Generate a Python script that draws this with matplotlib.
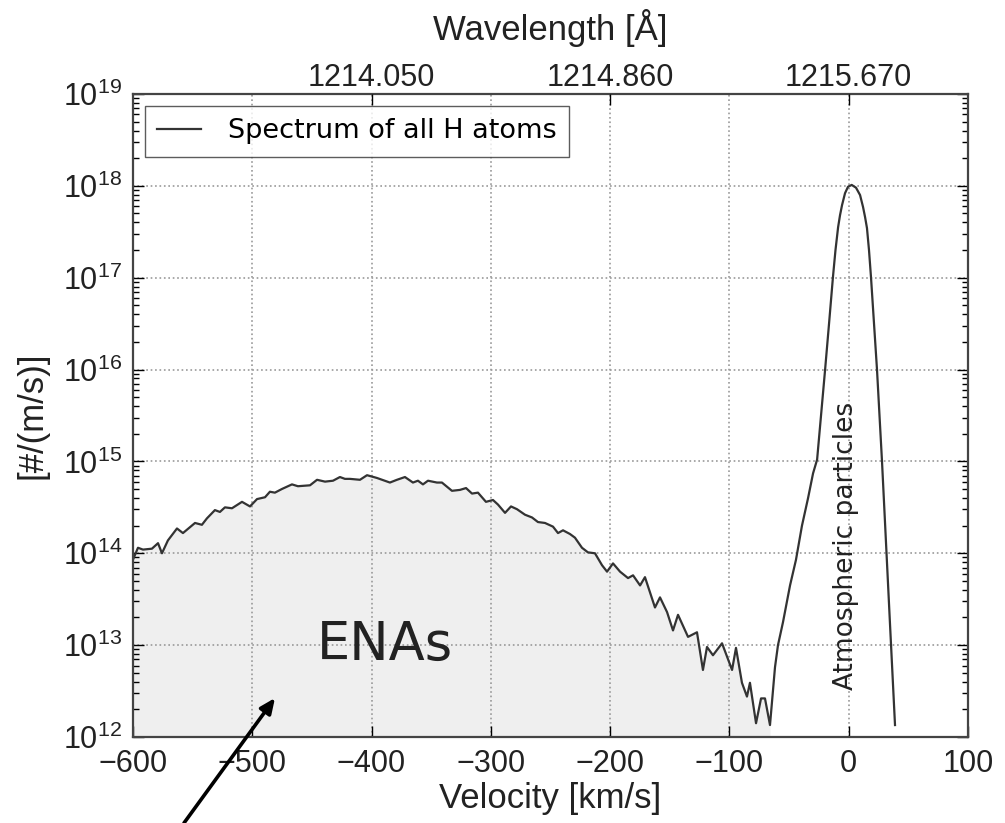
import numpy as np
import matplotlib
matplotlib.use("Agg")
import matplotlib.pyplot as plt

plt.rcParams['mathtext.fontset'] = 'custom'
plt.rcParams['mathtext.rm'] = 'Liberation Sans'
plt.rcParams['mathtext.it'] = 'Liberation Sans'

#%%---------------------------------------- datos leidos de la figura
# velocidad [km/s] y log10 del espectro, parte ENA
v_ena = [-600.0, -595.8, -591.6, -584.1, -579.0, -575.7, -570.7, -563.1, -558.1,
         -548.0, -542.2, -538.0, -531.3, -527.1, -522.9, -517.0, -508.6, -501.9,
         -496.0, -489.3, -485.2, -481.0, -475.1, -466.7, -461.7, -451.6, -445.7,
         -439.0, -432.3, -426.5, -422.3, -418.1, -409.7, -403.8, -395.5, -384.6,
         -378.7, -372.0, -365.3, -361.1, -356.9, -352.7, -345.2, -341.0, -332.6,
         -325.9, -320.8, -315.8, -310.8, -304.1, -298.2, -294.0, -288.1, -283.1,
         -278.1, -271.4, -265.5, -260.5, -254.6, -247.9, -243.7, -239.5, -233.7,
         -229.5, -223.6, -218.6, -212.7, -206.8, -202.6, -197.6, -191.7, -185.0,
         -180.8, -174.9, -170.8, -162.4, -158.2, -152.3, -147.3, -143.1, -134.7,
         -127.2, -122.2, -118.8, -113.8, -106.2, -97.8, -94.5, -89.5, -85.3,
         -82.8, -77.7, -73.5, -70.2, -66.0]
log_ena = [13.93, 14.06, 14.04, 14.05, 14.11, 14.00, 14.14, 14.27, 14.22,
           14.33, 14.31, 14.38, 14.47, 14.45, 14.50, 14.49, 14.56, 14.51,
           14.59, 14.61, 14.67, 14.66, 14.70, 14.75, 14.73, 14.74, 14.80,
           14.78, 14.79, 14.83, 14.81, 14.81, 14.80, 14.85, 14.82, 14.77,
           14.80, 14.83, 14.77, 14.79, 14.75, 14.79, 14.77, 14.77, 14.68,
           14.69, 14.71, 14.65, 14.66, 14.56, 14.58, 14.53, 14.44, 14.51,
           14.48, 14.42, 14.39, 14.34, 14.33, 14.29, 14.22, 14.25, 14.21,
           14.17, 14.06, 14.01, 14.00, 13.87, 13.80, 13.89, 13.80, 13.73,
           13.76, 13.65, 13.74, 13.41, 13.52, 13.36, 13.16, 13.33, 13.09,
           13.14, 12.73, 12.98, 12.89, 13.02, 12.73, 12.97, 12.59, 12.44,
           12.59, 12.15, 12.42, 12.42, 12.13]

# parte atmosferica
v_atm = [-61.8, -59.3, -55.1, -49.2, -44.2, -39.2, -34.1, -29.9, -26.5, -19.8,
         -16.5, -13.2, -11.1, -8.9, -7.3, -5.6, -3.1, -0.6, 2.5, 6.1, 9.5, 12.0,
         13.7, 15.3, 17.0, 18.7, 23.7, 27.9, 30.4, 34.6, 38.8]
log_atm = [12.76, 13.00, 13.25, 13.65, 13.93, 14.30, 14.60, 14.87, 15.02, 16.00,
           16.50, 17.01, 17.30, 17.55, 17.68, 17.79, 17.92, 17.99, 18.01, 17.98,
           17.90, 17.77, 17.66, 17.54, 17.30, 17.00, 16.00, 15.00, 14.34, 13.23,
           12.13]

wl_ticks = [-400, -200, 0]
wl_labels = ['1214.050', '1214.860', '1215.670']

#%%----------------------------------------
v = np.array(v_ena + v_atm)
y = 10.0 ** np.array(log_ena + log_atm)

fig = plt.figure(figsize=(10.05, 8.23), dpi=100)
ax = fig.add_axes([0.1323, 0.1045, 0.8309, 0.7813])

ax.fill_between(v_ena, 10.0 ** np.array(log_ena), 1e12, color='#efefef', lw=0)
ax.plot(v, y, color='#333333', lw=1.6, label='Spectrum of all H atoms')

ax.set_yscale('log')
ax.set_xlim(-600, 100)
ax.set_ylim(1e12, 1e19)
ax.set_yticks([10.0 ** k for k in range(12, 20)])
ax.grid(True, which='major', color='#999999', ls=':', lw=1.2)

tfont = dict(family='Liberation Sans', size=22, color='#222222')
ax.tick_params(which='major', direction='in', length=8, width=1, top=False, right=True,
               labelsize=22, labelcolor='#222222')
ax.tick_params(axis='x', pad=9)
ax.tick_params(axis='y', pad=8)
ax.tick_params(which='minor', direction='in', length=4, width=1, right=True)
for lab in ax.get_xticklabels() + ax.get_yticklabels():
    lab.set_family('Liberation Sans')
for s in ax.spines.values():
    s.set_color('#444444')
    s.set_linewidth(1.6)

ax.set_xlabel('Velocity [km/s]', family='Liberation Sans', size=25, color='#222222', labelpad=2)
ax.set_ylabel('[#/(m/s)]', family='Liberation Sans', size=25, color='#222222', labelpad=10)

ax2 = ax.twiny()
ax2.set_xlim(ax.get_xlim())
ax2.set_xticks(wl_ticks)
ax2.set_xticklabels(wl_labels, **tfont)
ax2.tick_params(direction='in', length=8, width=1, pad=1)
ax2.set_xlabel('Wavelength [Å]', family='Liberation Sans', size=25, color='#222222', labelpad=16)
for s in ax2.spines.values():
    s.set_visible(False)

ax.legend(loc='upper left', fontsize=19.5, frameon=True, fancybox=False,
          edgecolor='#333333', handlelength=1.6, handletextpad=1.0,
          borderaxespad=0.45, borderpad=0.45)

ax.text(-389, 1e13, 'ENAs', fontsize=38, color='#222222', ha='center', va='center')
ax.text(-2, 10 ** 14.08, 'Atmospheric particles', fontsize=19, color='#222222',
        rotation=90, ha='center', va='center')

ax.annotate('', xy=(275 / 1005, 1 - 698 / 823), xycoords='figure fraction',
            xytext=(184 / 1005, 1 - 823 / 823), textcoords='figure fraction',
            arrowprops=dict(arrowstyle='-|>,head_length=0.9,head_width=0.4',
                            color='black', lw=2.6, shrinkA=0, shrinkB=0),
            annotation_clip=False)

fig.savefig('out.png', dpi=100)
